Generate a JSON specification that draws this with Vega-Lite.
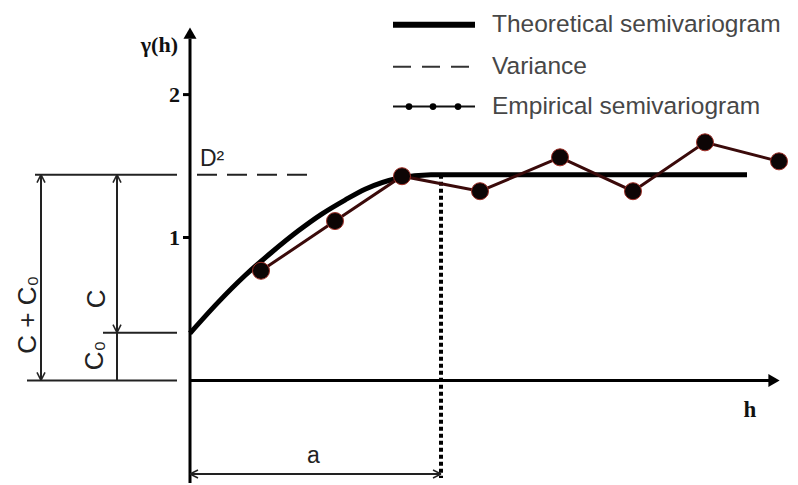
{
  "$schema": "https://vega.github.io/schema/vega-lite/v6.json",
  "width": 798,
  "height": 485,
  "padding": 0,
  "autosize": {"type": "fit", "contains": "padding"},
  "background": "white",
  "config": {"view": {"stroke": null}},
  "datasets": {
    "theory": [
      {"h": 0.0, "g": 0.33},
      {"h": 0.283, "g": 0.548},
      {"h": 0.55, "g": 0.734},
      {"h": 0.817, "g": 0.897},
      {"h": 1.083, "g": 1.047},
      {"h": 1.317, "g": 1.164},
      {"h": 1.55, "g": 1.262},
      {"h": 1.75, "g": 1.338},
      {"h": 2.08, "g": 1.415},
      {"h": 2.41, "g": 1.44},
      {"h": 5.57, "g": 1.44}
    ],
    "empirical": [
      {"h": 0.71, "g": 0.767},
      {"h": 1.45, "g": 1.115},
      {"h": 2.12, "g": 1.429},
      {"h": 2.9, "g": 1.324},
      {"h": 3.7, "g": 1.561},
      {"h": 4.43, "g": 1.324},
      {"h": 5.15, "g": 1.666},
      {"h": 5.89, "g": 1.533}
    ],
    "axes": [
      {"h": 0, "g": -0.718, "h2": 0, "g2": 2.39},
      {"h": 0, "g": 0, "h2": 5.8, "g2": 0},
      {"h": -0.07, "g": 1, "h2": 0, "g2": 1},
      {"h": -0.07, "g": 2, "h2": 0, "g2": 2}
    ],
    "guides": [
      {"h": -1.55, "g": 1.44, "h2": -0.13, "g2": 1.44},
      {"h": -1.63, "g": 0, "h2": -0.13, "g2": 0},
      {"h": -0.87, "g": 0.334, "h2": -0.13, "g2": 0.334},
      {"h": -1.49, "g": 0, "h2": -1.49, "g2": 1.44},
      {"h": -0.73, "g": 0.334, "h2": -0.73, "g2": 1.44},
      {"h": -0.73, "g": 0, "h2": -0.73, "g2": 0.334},
      {"h": 0, "g": -0.655, "h2": 2.51, "g2": -0.655}
    ],
    "heads": [
      {"h": -1.49, "g": 1.44, "h2": -1.53, "g2": 1.384},
      {"h": -1.49, "g": 1.44, "h2": -1.45, "g2": 1.384},
      {"h": -1.49, "g": 0, "h2": -1.53, "g2": 0.056},
      {"h": -1.49, "g": 0, "h2": -1.45, "g2": 0.056},
      {"h": -0.73, "g": 1.44, "h2": -0.77, "g2": 1.384},
      {"h": -0.73, "g": 1.44, "h2": -0.69, "g2": 1.384},
      {"h": -0.73, "g": 0.334, "h2": -0.77, "g2": 0.39},
      {"h": -0.73, "g": 0.334, "h2": -0.69, "g2": 0.39},
      {"h": 0, "g": -0.655, "h2": 0.08, "g2": -0.627},
      {"h": 0, "g": -0.655, "h2": 0.08, "g2": -0.683},
      {"h": 2.51, "g": -0.655, "h2": 2.43, "g2": -0.627},
      {"h": 2.51, "g": -0.655, "h2": 2.43, "g2": -0.683}
    ],
    "arrows": [
      {"h": 0, "g": 2.43, "dir": "up"},
      {"h": 5.84, "g": 0, "dir": "right"}
    ],
    "range": [{"h": 2.51, "g": 1.44, "h2": 2.51, "g2": -0.683}],
    "variance": [{"h": 0.07, "g": 1.44, "h2": 1.22, "g2": 1.44}],
    "legendThick": [{"h": 2.03, "g": 2.488, "h2": 2.85, "g2": 2.488}],
    "legendDash": [{"h": 2.03, "g": 2.195, "h2": 2.85, "g2": 2.195}],
    "legendEmp": [{"h": 2.03, "g": 1.916, "h2": 2.85, "g2": 1.916}],
    "legendDots": [
      {"h": 2.19, "g": 1.916},
      {"h": 2.43, "g": 1.916},
      {"h": 2.68, "g": 1.916}
    ],
    "legendText": [
      {"h": 3.02, "g": 2.488, "label": "Theoretical semivariogram"},
      {"h": 3.02, "g": 2.195, "label": "Variance"},
      {"h": 3.02, "g": 1.916, "label": "Empirical semivariogram"}
    ],
    "serifText": [
      {"h": -0.12, "g": 2.348, "label": "γ(h)"},
      {"h": -0.1, "g": 2, "label": "2"},
      {"h": -0.1, "g": 1, "label": "1"}
    ],
    "hText": [{"h": 5.6, "g": -0.209, "label": "h"}],
    "sansText": [
      {"h": 1.17, "g": -0.53, "label": "a"},
      {"h": 0.1, "g": 1.547, "label": "D²"}
    ],
    "rotText": [
      {"h": -1.62, "g": 0.46, "label": "C + C₀"},
      {"h": -0.93, "g": 0.571, "label": "C"},
      {"h": -0.95, "g": 0.174, "label": "C₀"}
    ]
  },
  "encoding": {
    "x": {"field": "h", "type": "quantitative", "axis": null, "scale": {"domain": [-1.9, 6.08], "nice": false, "zero": false}},
    "y": {"field": "g", "type": "quantitative", "axis": null, "scale": {"domain": [-0.7178, 2.662], "nice": false, "zero": false}}
  },
  "layer": [
    {"data": {"name": "axes"}, "mark": {"type": "rule", "stroke": "#000", "strokeWidth": 3}, "encoding": {"x2": {"field": "h2"}, "y2": {"field": "g2"}}},
    {"data": {"name": "arrows"}, "transform": [{"filter": "datum.dir == 'up'"}], "mark": {"type": "point", "shape": "triangle-up", "filled": true, "color": "#000", "size": 170, "opacity": 1}},
    {"data": {"name": "arrows"}, "transform": [{"filter": "datum.dir == 'right'"}], "mark": {"type": "point", "shape": "triangle-right", "filled": true, "color": "#000", "size": 170, "opacity": 1}},
    {"data": {"name": "guides"}, "mark": {"type": "rule", "stroke": "#222", "strokeWidth": 2}, "encoding": {"x2": {"field": "h2"}, "y2": {"field": "g2"}}},
    {"data": {"name": "heads"}, "mark": {"type": "rule", "stroke": "#222", "strokeWidth": 1.5}, "encoding": {"x2": {"field": "h2"}, "y2": {"field": "g2"}}},
    {"data": {"name": "range"}, "mark": {"type": "rule", "stroke": "#000", "strokeWidth": 4, "strokeDash": [4, 3]}, "encoding": {"x2": {"field": "h2"}, "y2": {"field": "g2"}}},
    {"data": {"name": "variance"}, "mark": {"type": "rule", "stroke": "#222", "strokeWidth": 2, "strokeDash": [20, 10]}, "encoding": {"x2": {"field": "h2"}, "y2": {"field": "g2"}}},
    {"data": {"name": "theory"}, "mark": {"type": "line", "stroke": "#000", "strokeWidth": 5, "interpolate": "monotone"}, "encoding": {"order": {"field": "h"}}},
    {"data": {"name": "empirical"}, "mark": {"type": "line", "stroke": "#3a0a0a", "strokeWidth": 3}, "encoding": {"order": {"field": "h"}}},
    {"data": {"name": "empirical"}, "mark": {"type": "point", "shape": "circle", "filled": true, "fill": "#0d0505", "stroke": "#a03028", "strokeWidth": 1, "size": 290, "opacity": 1}},
    {"data": {"name": "legendThick"}, "mark": {"type": "rule", "stroke": "#000", "strokeWidth": 6}, "encoding": {"x2": {"field": "h2"}, "y2": {"field": "g2"}}},
    {"data": {"name": "legendDash"}, "mark": {"type": "rule", "stroke": "#333", "strokeWidth": 2, "strokeDash": [18, 11]}, "encoding": {"x2": {"field": "h2"}, "y2": {"field": "g2"}}},
    {"data": {"name": "legendEmp"}, "mark": {"type": "rule", "stroke": "#111", "strokeWidth": 2}, "encoding": {"x2": {"field": "h2"}, "y2": {"field": "g2"}}},
    {"data": {"name": "legendDots"}, "mark": {"type": "point", "shape": "circle", "filled": true, "color": "#000", "size": 45, "opacity": 1}},
    {"data": {"name": "legendText"}, "mark": {"type": "text", "align": "left", "baseline": "middle", "font": "Liberation Sans", "fontSize": 24.5, "fill": "#474747"}, "encoding": {"text": {"field": "label"}}},
    {"data": {"name": "serifText"}, "mark": {"type": "text", "align": "right", "baseline": "middle", "font": "Liberation Serif", "fontWeight": "bold", "fontSize": 22, "fill": "#111"}, "encoding": {"text": {"field": "label"}}},
    {"data": {"name": "hText"}, "mark": {"type": "text", "align": "center", "baseline": "middle", "font": "Liberation Serif", "fontWeight": "bold", "fontSize": 23, "fill": "#111"}, "encoding": {"text": {"field": "label"}}},
    {"data": {"name": "sansText"}, "mark": {"type": "text", "align": "left", "baseline": "middle", "font": "Liberation Sans", "fontSize": 23, "fill": "#222"}, "encoding": {"text": {"field": "label"}}},
    {"data": {"name": "rotText"}, "mark": {"type": "text", "align": "center", "baseline": "middle", "angle": 270, "font": "Liberation Sans", "fontSize": 26, "fill": "#222"}, "encoding": {"text": {"field": "label"}}}
  ]
}
